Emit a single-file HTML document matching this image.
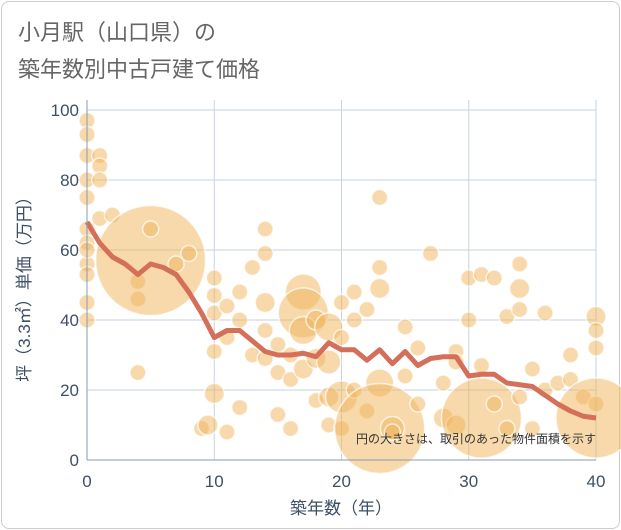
<!DOCTYPE html>
<html><head><meta charset="utf-8"><style>
body{margin:0;background:#fff;font-family:"Liberation Sans","Noto Sans CJK JP",sans-serif}
#frame{position:absolute;left:1px;top:1px;width:617px;height:526px;border:1px solid #ccc;border-radius:8px;background:#fff}
</style></head><body>
<div id="frame"></div>
<svg id="c" width="621" height="530" style="position:absolute;left:0;top:0">
<text x="18" y="40" font-size="22" fill="#666">小月駅（山口県）の</text>
<text x="18" y="77" font-size="22" fill="#666">築年数別中古戸建て価格</text>
<g id="grid"></g><g id="bub"></g><g id="ln"></g><g id="ax"></g>
<text x="596" y="443" font-size="12" fill="#333" text-anchor="end">円の大きさは、取引のあった物件面積を示す</text>
<text x="341" y="514" font-size="17" fill="#3d4f66" text-anchor="middle">築年数（年）</text>
<text transform="translate(30,285) rotate(-90)" font-size="17" fill="#3d4f66" text-anchor="middle">坪（3.3㎡）単価（万円）</text>
</svg>
<script>
const xTicks=[0,10,20,30,40];
const yTicks=[0,20,40,60,80,100];
const years=[0,1,2,3,4,5,6,7,8,9,10,11,12,13,14,15,16,17,18,19,20,21,22,23,24,25,26,27,28,29,30,31,32,33,34,35,36,37,38,39,40];
const avgPrice=[68,62,58,56,53,56,55,53,48,42,35,37,37,34,31,30,30,30.5,29.5,33.5,31.5,31.5,28.5,31.5,27.5,31,27,29,29.5,29.5,24,24.5,24.5,22,21.5,21,18.5,16,14,12.5,12];
const bubX=[0,0,0,0,0,0,0,0,0,0,0,0,1,1,1,1,2,4,4,4,5,5,7,8,9,9.5,10,10,10,10,10,11,11,11,12,12,12,13,13,14,14,14,14,14,15,15,15,16,16,16,17,17,17,17,18,18,18,19,19,19,19,20,20,20,20,21,21,21,22,22,23,23,23,23,23,24,24,25,25,26,26,27,28,28,29,29,29,30,30,31,31,31,32,32,33,33,34,34,34,34,35,35,36,36,37,38,38,39,40,40,40,40,40];
const bubY=[97,93,87,80,75,66,62,56,53,45,40,60,87,84,80,69,70,46,51,25,57,66,56,59,9,10,52,47,42,31,19,44,35,8,48,40,15,30,55,66,59,45,37,29,33,25,13,30,23,9,48,42,37,26,40,29,17,38,28,18,10,45,35,18,9,48,40,20,43,14,75,55,49,22,9,9,8,38,24,32,16,59,22,12,31,28,10,52,40,53,27,12,52,16,41,9,56,49,43,18,26,9,42,20,22,30,23,18,41,37,32,16,12];
const bubR=[8,8,8,8,8,8,8,8,8,8,8,8,8,8,8,8,8,8,8,8,55,8,8,8,8,10,8,8,8,8,10,8,8,8,8,8,8,8,8,8,8,10,8,8,8,8,8,8,8,8,18,25,14,10,10,10,8,14,12,10,8,8,8,16,8,8,8,8,8,8,8,8,10,14,45,12,8,8,8,8,8,8,8,10,8,8,10,8,8,8,8,40,8,8,8,8,8,10,8,8,8,8,8,8,8,8,8,8,10,8,8,8,40];
const X=v=>87+v*12.725, Y=v=>460-v*3.5;
const NS='http://www.w3.org/2000/svg';
function mk(t,a,p){const e=document.createElementNS(NS,t);for(const k in a)e.setAttribute(k,a[k]);p.appendChild(e);return e;}
const g=document.getElementById('grid');
xTicks.forEach(t=>{const l=mk('line',{x1:X(t),x2:X(t),y1:Y(100)-10,y2:Y(0),stroke:'#c5d2e0'},g);

});
yTicks.forEach(t=>{const l=mk('line',{x1:X(0),x2:X(40),y1:Y(t),y2:Y(t),stroke:'#c5d2e0'},g);

});
const b=document.getElementById('bub');
bubX.forEach((x,i)=>{const c=mk('circle',{cx:X(x),cy:Y(bubY[i]),r:bubR[i],fill:'rgba(240,180,90,0.5)',stroke:'rgba(255,255,255,0.7)','stroke-width':1.5},b);

});
const ln=mk('polyline',{points:years.map((y,i)=>X(y)+','+Y(avgPrice[i])).join(' '),fill:'none',stroke:'#d4705a','stroke-width':5,'stroke-linejoin':'round'},document.getElementById('ln'));


const ax=document.getElementById('ax');
const a1=mk('line',{x1:X(0),x2:X(0),y1:Y(100)-10,y2:Y(0),stroke:'#8a9bb0'},ax);


const a2=mk('line',{x1:X(0),x2:X(40),y1:Y(0),y2:Y(0),stroke:'#8a9bb0'},ax);


xTicks.forEach(t=>{const e=mk('text',{x:X(t),y:487,'font-size':17,fill:'#3d4f66','text-anchor':'middle'},ax);e.textContent=t;

});
yTicks.forEach(t=>{const e=mk('text',{x:79,y:Y(t)+6,'font-size':17,fill:'#3d4f66','text-anchor':'end'},ax);e.textContent=t;

});
</script>
</body></html>
